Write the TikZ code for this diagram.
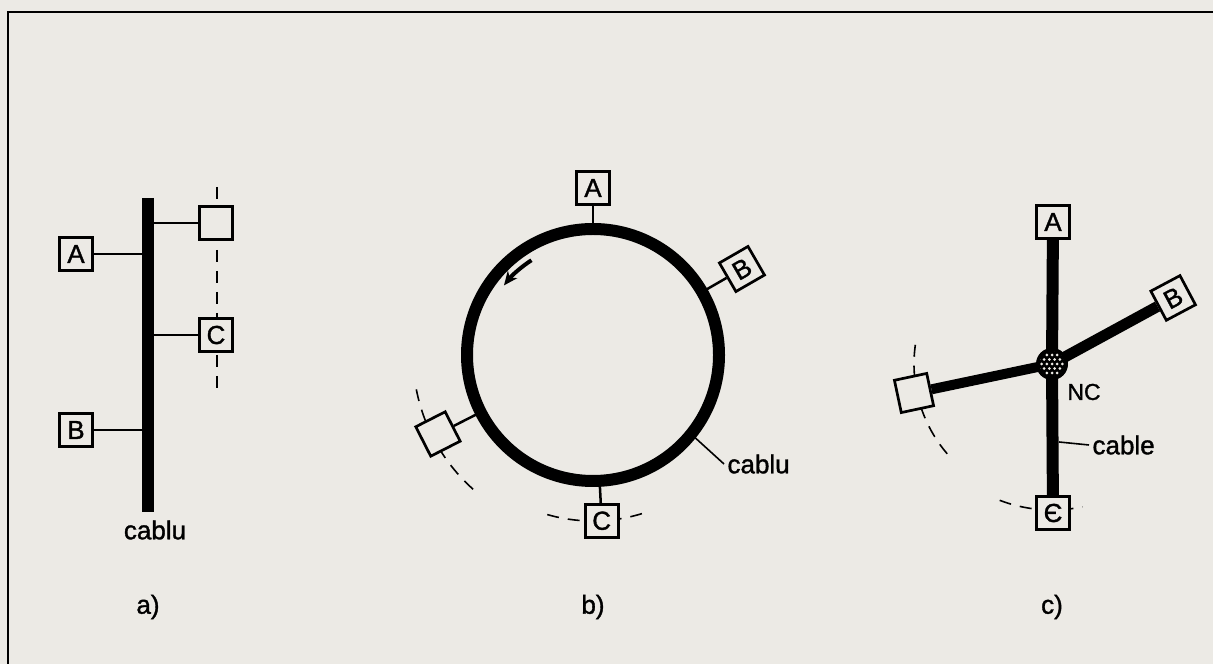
\documentclass[tikz,border=0pt]{standalone}
\usepackage{fontspec}
\setmainfont{Liberation Sans}[FakeBold=1.3]
\usetikzlibrary{arrows.meta, calc}
\definecolor{paper}{RGB}{236,234,229}

\begin{document}
\begin{tikzpicture}[x=1pt, y=1pt,
    station/.style={rectangle, draw, line width=2.7pt, fill=paper, minimum size=33pt, inner sep=0pt, font=\fontsize{26}{26}\selectfont},
    cableline/.style={line width=12pt},
    stub/.style={line width=2.5pt},
    ext/.style={line width=1.6pt, dash pattern=on 12pt off 9pt},
    lbl/.style={font=\fontsize{26}{26}\selectfont}
]
\fill[paper] (0,0) rectangle (1213,664);
\useasboundingbox (0,0) rectangle (1213,664);
\draw[line width=2pt] (8,0) -- (8,652) -- (1213,652);

% a) bus
\coordinate (busT) at (148,466);
\coordinate (busB) at (148,152);
\coordinate (extT) at (217,477);
\coordinate (extB) at (217,271);
\draw[ext] (extT) -- (extB);
\draw[cableline] (busT) -- (busB);
\node[station] (aA) at (76,410) {A};
\node[station] (aB) at (76,234) {B};
\node[station] (aX) at (216,441) {};
\node[station] (aC) at (216,329) {C};
\foreach \n in {aA,aB,aX,aC}
    \draw[stub] (\n) -- (\n -| busT);
\node[lbl] (acab) at (155,134) {cablu};
\node[lbl] at (148,57) {a)};

% b) ring
\coordinate (ring) at (593,309);
\draw[cableline] (ring) circle[radius=126];
\draw[ext] ($(ring)+(191:180)$) arc[start angle=191, end angle=229, radius=180];
\draw[ext] ($(ring)+(-106:166)$) arc[start angle=-106, end angle=-70, radius=166];
\draw[line width=4pt, -{Stealth[length=14pt, width=12pt]}] ($(ring)+(123:113)$) arc[start angle=123, end angle=142, radius=113];
\node[station] (bA) at ($(ring)+(90:167)$) {A};
\node[station, rotate=30] (bB) at ($(ring)+(30:172)$) {B};
\node[station, rotate=27] (bX) at ($(ring)+(207:174)$) {};
\node[station] (bC) at ($(ring)+(-87:166)$) {C};
\coordinate (rA) at ($(ring)+(90:128)$);
\coordinate (rB) at ($(ring)+(30:128)$);
\coordinate (rX) at ($(ring)+(207:128)$);
\coordinate (rC) at ($(ring)+(-87:128)$);
\draw[stub] (bA) -- (rA);
\draw[stub] (bB) -- (rB);
\draw[stub] (bX) -- (rX);
\draw[stub] (bC) -- (rC);
\coordinate (rL) at ($(ring)+(-39:131)$);
\node[lbl, anchor=west] (bcab) at (724,200) {cablu};
\draw[stub, line width=1.6pt] (rL) -- (bcab.west);
\node[lbl] at (593,57) {b)};

% c) star
\coordinate (hub) at (1052,300);
\draw[ext] ($(hub)+(172:138)$) arc[start angle=172, end angle=222, radius=138];
\draw[ext] ($(hub)+(249:146)$) arc[start angle=249, end angle=282, radius=146];
\node[station] (cA) at (1053,442) {A};
\node[station, rotate=28] (cB) at ($(hub)+(28.6:138)$) {B};
\node[station, rotate=12] (cX) at (914,271) {};
\node[station] (cE) at (1053,151) {Є};
\draw[cableline] (hub) -- (cA);
\draw[cableline] (hub) -- (cE);
\draw[cableline, line width=11pt] (hub) -- (cB);
\draw[cableline, line width=10pt] (hub) -- (cX);
\fill (hub) circle[radius=16];
\begin{scope}
    \clip (hub) circle[radius=12.5];
    \foreach \i in {-3,...,3}
        \foreach \j in {-3,...,3}
            \fill[paper] ($(hub)+(\i*5.2+\j*2.6, \j*4.5)$) circle[radius=1.5];
\end{scope}
\node[font=\fontsize{23}{23}\selectfont] (nc) at (1084,272) {NC};
\coordinate (cL) at (1059,222);
\node[lbl, anchor=west] (ccab) at (1089,219) {cable};
\draw[stub, line width=1.6pt] (cL) -- (ccab.west);
\node[lbl] at (1052,57) {c)};
\end{tikzpicture}
\end{document}
